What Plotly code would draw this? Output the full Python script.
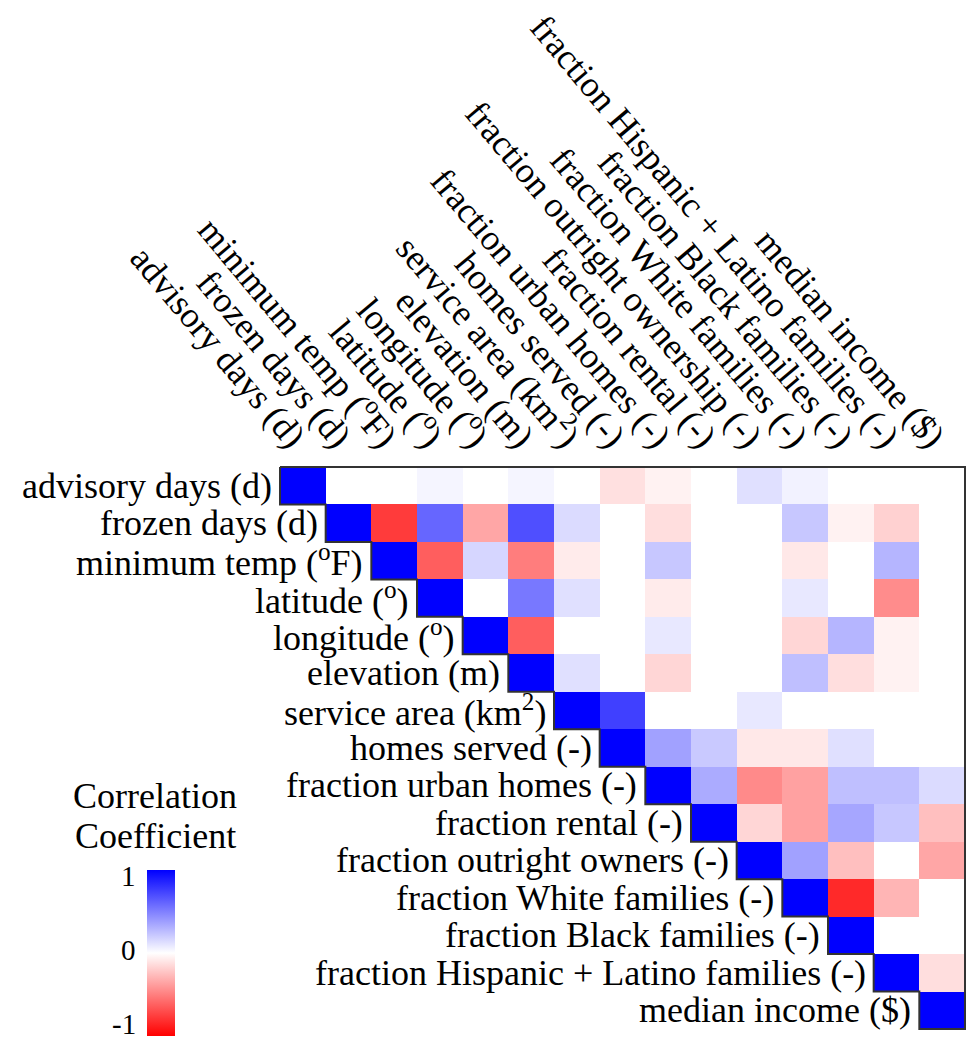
import plotly.graph_objects as go

# ---- data ----
col_labels = [
    "advisory days (d)", "frozen days (d)", "minimum temp (<sup>o</sup>F)", "latitude (<sup>o</sup>)",
    "longitude (<sup>o</sup>)", "elevation (m)", "service area (km<sup>2</sup>)", "homes served (-)",
    "fraction urban homes (-)", "fraction rental (-)", "fraction outright ownership (-)",
    "fraction White families (-)", "fraction Black families (-)",
    "fraction Hispanic + Latino families (-)", "median income ($)",
]
row_labels = [
    "advisory days (d)", "frozen days (d)", "minimum temp (<sup>o</sup>F)", "latitude (<sup>o</sup>)",
    "longitude (<sup>o</sup>)", "elevation (m)", "service area (km<sup>2</sup>)", "homes served (-)",
    "fraction urban homes (-)", "fraction rental (-)", "fraction outright owners (-)",
    "fraction White families (-)", "fraction Black families (-)",
    "fraction Hispanic + Latino families (-)", "median income ($)",
]
# upper-triangle rows, each starting at the diagonal
r0 = [1, 0, 0, 0.04, 0, 0.04, 0, -0.12, -0.05, 0, 0.12, 0.05, 0, 0, 0]
r1 = [1, -0.77, 0.6, -0.35, 0.69, 0.14, 0, -0.13, 0, 0, 0.22, -0.05, -0.18, 0]
r2 = [1, -0.63, 0.16, -0.51, -0.08, 0, 0.22, 0, 0, -0.09, 0, 0.29, 0]
r3 = [1, 0, 0.53, 0.12, 0, -0.08, 0, 0, 0.09, 0, -0.45, 0]
r4 = [1, -0.63, 0, 0, 0.09, 0, 0, -0.16, 0.29, -0.05, 0]
r5 = [1, 0.12, 0, -0.16, 0, 0, 0.25, -0.13, -0.05, 0]
r6 = [1, 0.75, 0, 0, 0.09, 0, 0, 0, 0]
r7 = [1, 0.37, 0.21, -0.09, -0.09, 0.12, 0, 0]
r8 = [1, 0.33, -0.46, -0.37, 0.25, 0.25, 0.14]
r9 = [1, -0.16, -0.37, 0.35, 0.22, -0.25]
r10 = [1, 0.37, -0.25, 0, -0.35]
r11 = [1, -0.84, -0.29, 0]
r12 = [1, 0, 0]
r13 = [1, -0.13]
r14 = [1]
upper_rows = [r0, r1, r2, r3, r4, r5, r6, r7, r8, r9, r10, r11, r12, r13, r14]
cbar_ticks = [1, 0, -1]
cbar_title_lines = ["Correlation", "Coefficient"]

n = len(col_labels)
z = [[None] * i + row for i, row in enumerate(upper_rows)]

FONT = "Liberation Serif, Times New Roman, serif"
colorscale = [[0, "rgb(255,0,0)"], [0.5, "rgb(255,255,255)"], [1, "rgb(0,0,255)"]]

# the page body adds an 8px margin on every side; size the figure to fit the window
BODY = 8
W, H = 975 - 2 * BODY, 1044 - 2 * BODY
PAD = 2  # px of room around the cells so the outline is not clipped
CELL_LEFT, CELL_TOP = 280, 463          # page px
CELL_RIGHT, CELL_BOTTOM = 965, 1033     # page px
ml = CELL_LEFT - BODY - PAD
mt = CELL_TOP - BODY - PAD
mr = max(W - (CELL_RIGHT - BODY + PAD), 0)
mb = max(H - (CELL_BOTTOM - BODY + PAD), 0)
plot_w = W - ml - mr
plot_h = H - mt - mb
cell_w = (plot_w - 2 * PAD) / n
cell_h = (plot_h - 2 * PAD) / n
ex, ey = PAD / cell_w, PAD / cell_h


def py_from_page(page_y):
    return (H - mb - (page_y - BODY)) / plot_h


cb_len_px = 166
cb_center_y = py_from_page(956)
cb_x = (147 - BODY - ml) / plot_w
cb_top = cb_center_y + (cb_len_px / 2) / plot_h

fig = go.Figure()
fig.add_trace(go.Heatmap(
    z=z, x=list(range(n)), y=list(range(n)),
    zmin=-1, zmax=1, colorscale=colorscale, hoverongaps=False,
    colorbar=dict(
        x=cb_x, xanchor="left", y=cb_center_y, yanchor="middle",
        len=cb_len_px, lenmode="pixels", thickness=28, xpad=0, ypad=0,
        outlinewidth=0, showticklabels=False, ticks="",
    ),
))

# outline of the upper triangle (top, right, and staircase)
px, py = [-0.5, n - 0.5, n - 0.5], [-0.5, -0.5, n - 0.5]
for i in range(n - 1, -1, -1):
    px += [i - 0.5, i - 0.5]
    py += [i + 0.5, i - 0.5]
fig.add_trace(go.Scatter(x=px, y=py, mode="lines", line=dict(color="#333333", width=2),
                         hoverinfo="skip", showlegend=False))

annotations = []
for i, lab in enumerate(row_labels):
    annotations.append(dict(x=i - 0.5, y=i, xref="x", yref="y", text=lab, showarrow=False,
                            xanchor="right", yanchor="middle", xshift=-6,
                            font=dict(family=FONT, size=36, color="black")))
# colorbar tick labels
label_center = py_from_page(952.5)
half_span = 75 / plot_h
for v in cbar_ticks:
    annotations.append(dict(x=cb_x, y=label_center + v * half_span, xref="paper",
                            yref="paper", text=str(v), showarrow=False, xanchor="right",
                            yanchor="middle", xshift=-9,
                            font=dict(family=FONT, size=29, color="black")))
# colorbar title (two lines)
for k, line in enumerate(cbar_title_lines):
    offset_px = 36 + 40 * (len(cbar_title_lines) - 1 - k)
    annotations.append(dict(x=cb_x, y=cb_top + offset_px / plot_h, xref="paper", yref="paper",
                            text=line, showarrow=False, xanchor="center", yanchor="middle",
                            xshift=8, font=dict(family=FONT, size=36, color="black")))

fig.update_layout(
    width=W, height=H, autosize=False,
    margin=dict(l=ml, r=mr, t=mt, b=mb, pad=0),
    paper_bgcolor="white", plot_bgcolor="white",
    font=dict(family=FONT, size=36, color="black"),
    xaxis=dict(range=[-0.5 - ex, n - 0.5 + ex], side="top", tickmode="array",
               tickvals=list(range(n)), ticktext=col_labels, tickangle=50, showgrid=False,
               zeroline=False, ticks="", showline=False,
               tickfont=dict(family=FONT, size=36, color="black")),
    yaxis=dict(range=[n - 0.5 + ey, -0.5 - ey], showticklabels=False, showgrid=False,
               zeroline=False, ticks="", showline=False),
    annotations=annotations,
    showlegend=False,
)

fig.write_html("out.html")
